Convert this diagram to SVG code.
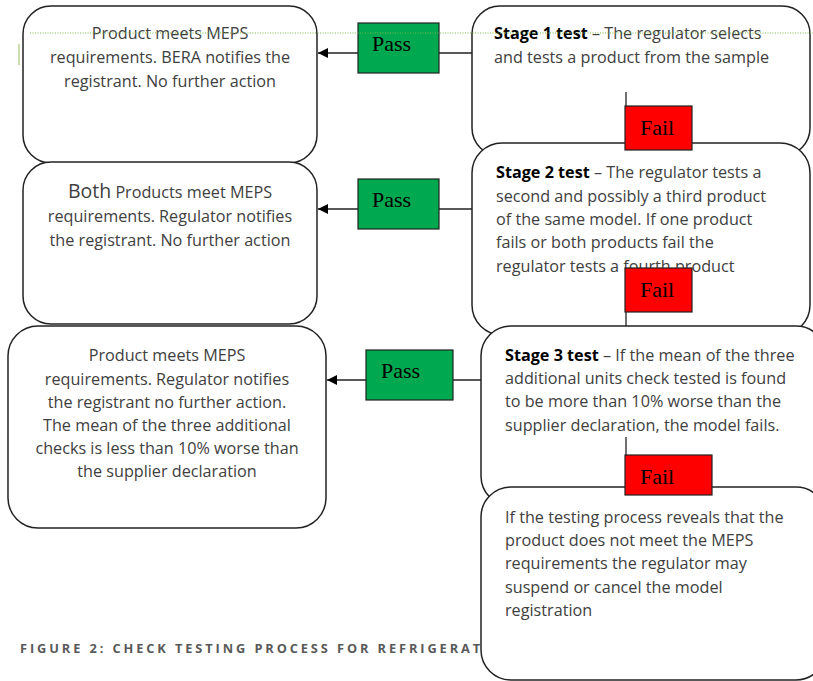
<svg xmlns="http://www.w3.org/2000/svg" width="813" height="681" viewBox="0 0 813 681">
<style>
.box{fill:#fff;stroke:#222;stroke-width:1.5}
.t{font-family:"Open Sans","Noto Sans",sans-serif;font-size:16.2px;fill:#404040}
.b{font-weight:bold;fill:#000}
.pass{fill:#00a84f;stroke:#222;stroke-width:1.2}
.fail{fill:#ff0000;stroke:#222;stroke-width:1.2}
.lbl{font-family:"Liberation Serif",serif;font-size:22px;fill:#000}
.ln{stroke:#222;stroke-width:1.3;fill:none}
.cap{font-family:"Open Sans",sans-serif;font-weight:bold;font-size:12.8px;letter-spacing:2.9px;fill:#595959}
</style>
<defs>
<marker id="ah" viewBox="0 0 10 10" refX="10" refY="5" markerWidth="10" markerHeight="10" markerUnits="userSpaceOnUse" orient="auto">
<path d="M0,0 L10,5 L0,10 z" fill="#000"/>
</marker>
</defs>
<text class="cap" x="20" y="653">FIGURE 2: CHECK TESTING PROCESS FOR REFRIGERAT</text>
<g id="connectors">
<line class="ln" x1="472" y1="53" x2="318" y2="53" marker-end="url(#ah)"/>
<line class="ln" x1="472" y1="209" x2="318" y2="209" marker-end="url(#ah)"/>
<line class="ln" x1="481" y1="380" x2="327" y2="380" marker-end="url(#ah)"/>
</g>
<g id="outcome1"><rect class="box" x="23" y="6" width="294" height="157" rx="28"/>
<text class="t" text-anchor="middle"><tspan x="170" y="39">Product meets MEPS</tspan><tspan x="170" y="63">requirements. BERA notifies the</tspan><tspan x="170" y="87">registrant. No further action</tspan></text></g>
<g id="outcome2"><rect class="box" x="23" y="162" width="294" height="162" rx="28"/>
<text class="t" text-anchor="middle"><tspan x="170" y="198"><tspan font-size="19.5px">Both</tspan> Products meet MEPS</tspan><tspan x="170" y="222">requirements. Regulator notifies</tspan><tspan x="170" y="246">the registrant. No further action</tspan></text></g>
<g id="outcome3"><rect class="box" x="8" y="326" width="318" height="202" rx="30"/>
<text class="t" text-anchor="middle"><tspan x="167" y="361">Product meets MEPS</tspan><tspan x="167" y="385">requirements. Regulator notifies</tspan><tspan x="167" y="408">the registrant no further action.</tspan><tspan x="167" y="431">The mean of the three additional</tspan><tspan x="167" y="454">checks is less than 10% worse than</tspan><tspan x="167" y="477">the supplier declaration</tspan></text></g>
<g id="stage1"><rect class="box" x="472" y="6" width="338" height="150" rx="28"/>
<text class="t"><tspan x="494" y="39"><tspan class="b">Stage 1 test</tspan> – The regulator selects</tspan><tspan x="494" y="63">and tests a product from the sample</tspan></text></g>
<g id="stage2"><rect class="box" x="472" y="143" width="338" height="192" rx="30"/>
<text class="t"><tspan x="496" y="178"><tspan class="b">Stage 2 test</tspan> – The regulator tests a</tspan><tspan x="496" y="202">second and possibly a third product</tspan><tspan x="496" y="225">of the same model. If one product</tspan><tspan x="496" y="248">fails or both products fail the</tspan><tspan x="496" y="272">regulator tests a fourth product</tspan></text></g>
<g id="stage3"><rect class="box" x="481" y="326" width="345" height="180" rx="30"/>
<text class="t"><tspan x="505" y="361"><tspan class="b">Stage 3 test</tspan> – If the mean of the three</tspan><tspan x="505" y="384">additional units check tested is found</tspan><tspan x="505" y="407">to be more than 10% worse than the</tspan><tspan x="505" y="431">supplier declaration, the model fails.</tspan></text></g>
<g id="outcome4"><rect class="box" x="481" y="487" width="345" height="193" rx="30"/>
<text class="t"><tspan x="505" y="523">If the testing process reveals that the</tspan><tspan x="505" y="546">product does not meet the MEPS</tspan><tspan x="505" y="569">requirements the regulator may</tspan><tspan x="505" y="593">suspend or cancel the model</tspan><tspan x="505" y="616">registration</tspan></text></g>
<g id="fail-stubs">
<line class="ln" x1="626" y1="92" x2="626" y2="106"/>
<line class="ln" x1="626" y1="312" x2="626" y2="326"/>
<line class="ln" x1="626" y1="437" x2="626" y2="455"/>
</g>
<g id="pass1"><rect class="pass" x="358" y="23" width="81" height="50"/><text class="lbl" x="372" y="51">Pass</text></g>
<g id="pass2"><rect class="pass" x="358" y="179" width="81" height="50"/><text class="lbl" x="372" y="207">Pass</text></g>
<g id="pass3"><rect class="pass" x="366" y="350" width="87" height="50"/><text class="lbl" x="381" y="378">Pass</text></g>
<g id="fail1"><rect class="fail" x="625" y="106" width="67" height="44"/><text class="lbl" x="640" y="135">Fail</text></g>
<g id="fail2"><rect class="fail" x="625" y="268" width="67" height="44"/><text class="lbl" x="640" y="297">Fail</text></g>
<g id="fail3"><rect class="fail" x="625" y="455" width="87" height="40"/><text class="lbl" x="640" y="484">Fail</text></g>
<line x1="30" y1="33" x2="813" y2="33" stroke="#7ab648" stroke-width="1" stroke-dasharray="1,1.5"/>
<line x1="19" y1="44" x2="19" y2="65" stroke="#9bbb59" stroke-width="1"/>
</svg>
